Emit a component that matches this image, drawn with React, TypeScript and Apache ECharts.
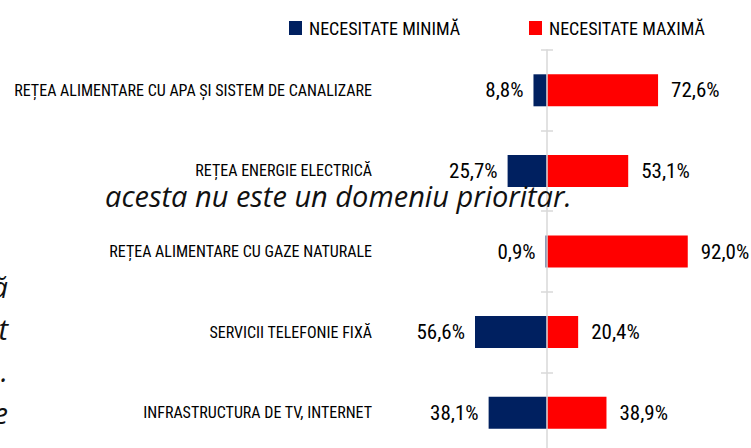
import React, { useEffect, useRef } from "react";
import * as echarts from "echarts";

const categories = [
  "REȚEA ALIMENTARE CU APA ȘI SISTEM DE CANALIZARE",
  "REȚEA ENERGIE ELECTRICĂ",
  "REȚEA ALIMENTARE CU GAZE NATURALE",
  "SERVICII TELEFONIE FIXĂ",
  "INFRASTRUCTURA DE TV, INTERNET",
];
const seriesNames = ["NECESITATE MINIMĂ", "NECESITATE MAXIMĂ"];
const minimValues = [8.8, 25.7, 0.9, 56.6, 38.1];
const maximValues = [72.6, 53.1, 92.0, 20.4, 38.9];
const overlayText = "acesta nu este un domeniu prioritar.";
const edgeGlyphs = ["ă", "t", ".", "e"];

const NARROW = "'Roboto Condensed', 'DejaVu Sans Condensed', sans-serif";
const ITALIC = "'Open Sans', 'Noto Sans', sans-serif";
const NAVY = "#002060";
const RED = "#FF0000";
const AXIS_GRAY = "#d9d9d9";

const fmt = (v: number) => Math.abs(v).toFixed(1).replace(".", ",") + "%";

export default function App() {
  const ref = useRef<HTMLDivElement>(null);
  useEffect(() => {
    if (!ref.current) return;
    const chart = echarts.init(ref.current, undefined, { renderer: "svg" });
    const legendBase = {
      top: 19,
      padding: 0,
      icon: "rect",
      itemWidth: 13,
      itemHeight: 14,
      textStyle: { fontFamily: NARROW, fontSize: 18, color: "#000", padding: [0, 0, 0, 2] },
    };
    const edgeBaselines = [297, 339, 381, 423];
    chart.setOption({
      animation: false,
      backgroundColor: "#fff",
      legend: [
        { ...legendBase, left: 289, data: [seriesNames[0]] },
        { ...legendBase, left: 529, data: [seriesNames[1]] },
      ],
      grid: [
        { left: 475, right: 51, top: 50, bottom: -5, containLabel: false, outerBoundsMode: "none" },
        { left: 547, width: 10, top: 50, bottom: -5, containLabel: false, outerBoundsMode: "none" },
      ],
      xAxis: [
        { type: "value", gridIndex: 0, min: -47, max: 100, show: false },
        { type: "value", gridIndex: 1, min: 0, max: 1, show: false },
      ],
      yAxis: [
        {
          type: "category",
          gridIndex: 0,
          inverse: true,
          data: categories,
          axisLine: { show: false },
          axisTick: { show: false },
          axisLabel: { margin: 103, fontFamily: NARROW, fontSize: 16, color: "#000" },
        },
        {
          type: "category",
          gridIndex: 1,
          inverse: true,
          position: "left",
          data: categories,
          z: 3,
          axisLine: { show: true, onZero: false, lineStyle: { color: AXIS_GRAY, width: 1.5 } },
          axisTick: { show: true, length: 6, lineStyle: { color: AXIS_GRAY, width: 1.5 } },
          axisLabel: { show: false },
        },
        {
          type: "category",
          gridIndex: 1,
          inverse: true,
          position: "left",
          data: categories,
          z: 3,
          axisLine: { show: false, onZero: false },
          axisTick: { show: true, inside: true, length: 6, lineStyle: { color: AXIS_GRAY, width: 1.5 } },
          axisLabel: { show: false },
        },
      ],
      series: [
        {
          name: seriesNames[0],
          type: "bar",
          stack: "total",
          xAxisIndex: 0,
          yAxisIndex: 0,
          barWidth: 32,
          itemStyle: { color: NAVY },
          data: minimValues.map((v) => -v),
          label: {
            show: true,
            position: "left",
            distance: 10,
            fontFamily: NARROW,
            fontSize: 21,
            color: "#000",
            formatter: (p: any) => fmt(p.value),
          },
        },
        {
          name: seriesNames[1],
          type: "bar",
          stack: "total",
          xAxisIndex: 0,
          yAxisIndex: 0,
          barWidth: 32,
          itemStyle: { color: RED },
          data: maximValues,
          label: {
            show: true,
            position: "right",
            distance: 13,
            fontFamily: NARROW,
            fontSize: 21,
            color: "#000",
            formatter: (p: any) => fmt(p.value),
          },
        },
      ],
      graphic: [
        {
          type: "text",
          x: 105,
          y: 195.5,
          z: 10,
          style: {
            text: overlayText,
            fontFamily: ITALIC,
            fontStyle: "italic",
            fontSize: 29,
            fill: "#111",
            verticalAlign: "middle",
          },
        },
        ...edgeGlyphs.map((g, i) => ({
          type: "text",
          x: 8,
          y: edgeBaselines[i] - 11,
          z: 10,
          style: {
            text: g,
            fontFamily: ITALIC,
            fontStyle: "italic",
            fontSize: 29,
            fill: "#111",
            align: "right",
            verticalAlign: "middle",
          },
        })),
      ],
    });
    return () => chart.dispose();
  }, []);
  return (
    <div
      ref={ref}
      style={{ position: "absolute", left: 0, top: 0, width: 751, height: 448, background: "#fff" }}
    />
  );
}
